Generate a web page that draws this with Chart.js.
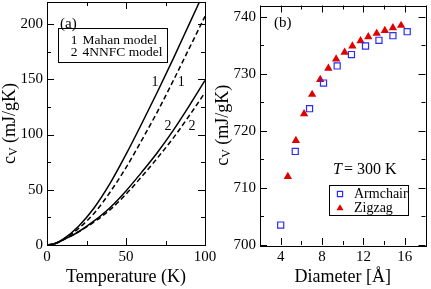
<!DOCTYPE html>
<html lang="en">
  <head>
    <meta charset="UTF-8" />
    <meta name="viewport" content="width=device-width, initial-scale=1.0" />
    <title>Specific heat charts</title>
    <style>
      body {
          margin: 0;
          background-color: #fff;
      }
      .panel {
          position: absolute;
          top: 0;
          width: 218px;
          height: 289px;
      }
      #leftPanel { left: 0; }
      #rightPanel { left: 213px; }
    </style>
    <script src="https://cdn.jsdelivr.net/npm/chart.js@4.4.0/dist/chart.umd.min.js"></script>
  </head>
  <body>
    <div class="panel" id="leftPanel"><canvas id="tempChart"></canvas></div>
    <div class="panel" id="rightPanel"><canvas id="diamChart"></canvas></div>
    <script>
      // (a) c_V against temperature
      var temps = [0, 5, 10, 20, 30, 40, 50, 60, 70, 80, 90, 100];
      var curve1Solid = [0, 1.3, 5, 17, 34, 56, 82, 110, 139, 169, 200, 231];
      var curve1Dashed = [0, 1.3, 4.8, 15, 29, 48, 70, 95, 121, 149, 178, 207];
      var curve2Solid = [0, 1.2, 4.5, 12, 22, 34, 49, 66, 84, 104, 126, 149];
      var curve2Dashed = [0, 1.2, 4.5, 12, 21, 32, 46, 62, 79, 97, 117, 138];
      var tempTicks = [0, 50, 100];
      var heatTicks = [0, 50, 100, 150, 200];
      var modelNames = ["Mahan model", "4NNFC model"];

      // (b) c_V at 300 K against diameter
      var armDiam = [4.0, 5.41, 6.79, 8.14, 9.46, 10.84, 12.2, 13.5, 14.85, 16.23];
      var armCv = [703.5, 716.4, 723.9, 728.4, 731.4, 733.4, 734.9, 735.9, 736.7, 737.4];
      var zigDiam = [4.69, 5.47, 6.26, 7.04, 7.82, 8.61, 9.36, 10.18, 10.93, 11.72, 12.47, 13.28, 14.07, 14.85, 15.64];
      var zigCv = [712.0, 718.3, 723.0, 726.4, 729.0, 731.0, 732.6, 733.8, 734.9, 735.8, 736.5, 737.1, 737.6, 738.1, 738.5];
      var diamTicks = [4, 8, 12, 16];
      var cvTicks = [700, 710, 720, 730, 740];
      var seriesNames = ["Armchair", "Zigzag"];

      var serif = "'Liberation Serif', 'DejaVu Serif', serif";
      Chart.defaults.font.family = serif;
      Chart.defaults.color = "#000";

      const toPoints = (xs, ys) => xs.map((x, i) => ({ x: x, y: ys[i] }));

      // frame with inward ticks on all four sides, plus the y title with a subscript
      var framePlugin = {
        id: "frame",
        afterDatasetsDraw(chart, args, opts) {
          var ctx = chart.ctx;
          var a = chart.chartArea;
          var xs = chart.scales.x;
          var ys = chart.scales.y;
          ctx.save();
          ctx.strokeStyle = "#000";
          ctx.lineWidth = 1;
          ctx.strokeRect(Math.round(a.left) + 0.5, Math.round(a.top) + 0.5,
            Math.round(a.right - a.left), Math.round(a.bottom - a.top));
          ctx.beginPath();
          const xTick = (v, len) => {
            var p = Math.round(xs.getPixelForValue(v)) + 0.5;
            ctx.moveTo(p, a.bottom); ctx.lineTo(p, a.bottom - len);
            ctx.moveTo(p, a.top); ctx.lineTo(p, a.top + len);
          };
          const yTick = (v, len) => {
            var p = Math.round(ys.getPixelForValue(v)) + 0.5;
            ctx.moveTo(a.left, p); ctx.lineTo(a.left + len, p);
            ctx.moveTo(a.right, p); ctx.lineTo(a.right - len, p);
          };
          for (var v = xs.min; v <= xs.max + 1e-9; v += opts.xMinor) {
            var major = opts.xMajor.some((m) => Math.abs(m - v) < 1e-9);
            xTick(v, major ? 7 : 4);
          }
          for (var w = ys.min; w <= ys.max + 1e-9; w += opts.yMinor) {
            var majorY = opts.yMajor.some((m) => Math.abs(m - w) < 1e-9);
            yTick(w, majorY ? 7 : 4);
          }
          ctx.stroke();

          // y axis title: c_V (mJ/gK)
          var cy = (a.top + a.bottom) / 2;
          ctx.translate(10, cy);
          ctx.rotate(-Math.PI / 2);
          ctx.fillStyle = "#000";
          ctx.textBaseline = "middle";
          ctx.font = "18px " + serif;
          var cW = ctx.measureText("c").width;
          var restW = ctx.measureText(" (mJ/gK)").width;
          ctx.font = "12px " + serif;
          var vW = ctx.measureText("V").width;
          var x0 = -(cW + vW + restW) / 2;
          ctx.font = "18px " + serif;
          ctx.fillText("c", x0, 0);
          ctx.font = "12px " + serif;
          ctx.fillText("V", x0 + cW, 4);
          ctx.font = "18px " + serif;
          ctx.fillText(" (mJ/gK)", x0 + cW + vW, 0);
          ctx.restore();
        },
      };

      var tempNotes = {
        id: "tempNotes",
        afterDatasetsDraw(chart) {
          var ctx = chart.ctx;
          var a = chart.chartArea;
          var xs = chart.scales.x;
          var ys = chart.scales.y;
          ctx.save();
          ctx.fillStyle = "#000";
          ctx.textAlign = "center";
          ctx.textBaseline = "middle";
          ctx.font = "15px " + serif;
          ctx.fillText("(a)", xs.getPixelForValue(13.5), ys.getPixelForValue(200));
          ctx.font = "14px " + serif;
          ctx.fillText("1", xs.getPixelForValue(68.4), ys.getPixelForValue(147));
          ctx.fillText("1", xs.getPixelForValue(84.9), ys.getPixelForValue(147));
          ctx.fillText("2", xs.getPixelForValue(76.6), ys.getPixelForValue(107));
          ctx.fillText("2", xs.getPixelForValue(91.8), ys.getPixelForValue(107));
          // legend box
          var bx = a.left + 10.5, by = 28;
          ctx.strokeStyle = "#000";
          ctx.lineWidth = 1;
          ctx.strokeRect(Math.round(bx) + 0.5, by + 0.5, 109, 34);
          ctx.font = "13.5px " + serif;
          modelNames.forEach((name, i) => {
            var ry = by + 12 + i * 12.3;
            ctx.textAlign = "center";
            ctx.fillText(String(i + 1), bx + 16.5, ry);
            ctx.textAlign = "left";
            ctx.fillText(name, bx + 25, ry);
          });
          // x axis title
          ctx.textAlign = "center";
          ctx.font = "18px " + serif;
          ctx.fillText("Temperature (K)", (a.left + a.right) / 2, 277);
          ctx.restore();
        },
      };

      var diamLegend = {
        id: "diamLegend",
        afterDatasetsDraw(chart) {
          var ctx = chart.ctx;
          ctx.save();
          chart.data.datasets.forEach((ds, i) => {
            ctx.fillStyle = ds.backgroundColor;
            ctx.strokeStyle = ds.borderColor;
            ctx.lineWidth = ds.borderWidth;
            Chart.helpers.drawPoint(ctx, {
              pointStyle: ds.pointStyle,
              radius: ds.pointRadius * 0.85,
              borderWidth: ds.borderWidth,
            }, 127, 194 + i * 14.3);
          });
          ctx.restore();
        },
      };

      var diamNotes = {
        id: "diamNotes",
        afterDatasetsDraw(chart) {
          var ctx = chart.ctx;
          var a = chart.chartArea;
          var xs = chart.scales.x;
          var ys = chart.scales.y;
          ctx.save();
          ctx.fillStyle = "#000";
          ctx.textBaseline = "middle";
          ctx.textAlign = "center";
          ctx.font = "15px " + serif;
          ctx.fillText("(b)", xs.getPixelForValue(4.2), ys.getPixelForValue(739));
          ctx.textAlign = "left";
          ctx.font = "italic 16px " + serif;
          ctx.fillText("T", 120, 170);
          var tW = ctx.measureText("T").width;
          ctx.font = "16px " + serif;
          ctx.fillText("= 300 K", 120 + tW + 2, 170);
          ctx.strokeStyle = "#000";
          ctx.lineWidth = 1;
          ctx.strokeRect(116.5, 185.5, 79, 30);
          ctx.font = "14px " + serif;
          seriesNames.forEach((name, i) => {
            ctx.fillText(name, 141, 194 + i * 14.3);
          });
          ctx.textAlign = "center";
          ctx.font = "18px " + serif;
          ctx.fillText("Diameter [Å]", (a.left + a.right) / 2, 277);
          ctx.restore();
        },
      };

      const curve = (xs, ys, dashed) => ({
        data: toPoints(xs, ys),
        borderColor: "#000",
        borderWidth: 1.5,
        borderDash: dashed ? [5, 3] : [],
        pointRadius: 0,
        fill: false,
        cubicInterpolationMode: "monotone",
      });

      // keep the plot box where the layout padding puts it
      const fitX = (s) => { s.height = 44; s.paddingLeft = 0; s.paddingRight = 0; };
      const fitY = (s) => { s.width = 47; s.paddingTop = 0; s.paddingBottom = 0; };

      var tempChart = new Chart(document.getElementById("tempChart"), {
        type: "line",
        data: {
          datasets: [
            curve(temps, curve1Solid, false),
            curve(temps, curve1Dashed, true),
            curve(temps, curve2Solid, false),
            curve(temps, curve2Dashed, true),
          ],
        },
        options: {
          responsive: true,
          maintainAspectRatio: false,
          animation: false,
          layout: { padding: { left: 0, right: 13, top: 2, bottom: 0 } },
          plugins: {
            legend: { display: false },
            tooltip: { enabled: false },
            frame: { xMajor: tempTicks, xMinor: 25, yMajor: heatTicks, yMinor: 25 },
          },
          scales: {
            x: {
              type: "linear",
              min: 0,
              max: 100,
              grid: { display: false, drawTicks: false },
              border: { display: false },
              afterBuildTicks: (s) => { s.ticks = tempTicks.map((v) => ({ value: v })); },
              afterFit: fitX,
              ticks: { font: { size: 15 }, padding: 3, maxRotation: 0 },
            },
            y: {
              min: 0,
              max: 220,
              grid: { display: false, drawTicks: false },
              border: { display: false },
              afterBuildTicks: (s) => { s.ticks = heatTicks.map((v) => ({ value: v })); },
              afterFit: fitY,
              ticks: { font: { size: 15 }, padding: 4 },
            },
          },
        },
        plugins: [framePlugin, tempNotes],
      });

      var diamChart = new Chart(document.getElementById("diamChart"), {
        type: "scatter",
        data: {
          datasets: [
            {
              label: seriesNames[0],
              data: toPoints(armDiam, armCv),
              pointStyle: "rect",
              pointRadius: 4.3,
              borderWidth: 1.2,
              borderColor: "#2a2aff",
              backgroundColor: "rgba(255,255,255,0)",
            },
            {
              label: seriesNames[1],
              data: toPoints(zigDiam, zigCv),
              pointStyle: "triangle",
              pointRadius: 4.8,
              borderWidth: 0,
              borderColor: "#e00000",
              backgroundColor: "#e00000",
            },
          ],
        },
        options: {
          responsive: true,
          maintainAspectRatio: false,
          animation: false,
          layout: { padding: { left: 0, right: 3, top: 1, bottom: 0 } },
          plugins: {
            legend: { display: false },
            tooltip: { enabled: false },
            frame: { xMajor: diamTicks, xMinor: 2, yMajor: cvTicks, yMinor: 5 },
          },
          scales: {
            x: {
              type: "linear",
              min: 2,
              max: 18,
              grid: { display: false, drawTicks: false },
              border: { display: false },
              afterBuildTicks: (s) => { s.ticks = diamTicks.map((v) => ({ value: v })); },
              afterFit: fitX,
              ticks: { font: { size: 15 }, padding: 3, maxRotation: 0 },
            },
            y: {
              min: 700,
              max: 742,
              grid: { display: false, drawTicks: false },
              border: { display: false },
              afterBuildTicks: (s) => { s.ticks = cvTicks.map((v) => ({ value: v })); },
              afterFit: fitY,
              ticks: { font: { size: 15 }, padding: 4 },
            },
          },
        },
        plugins: [framePlugin, diamLegend, diamNotes],
      });
    </script>
  </body>
</html>
